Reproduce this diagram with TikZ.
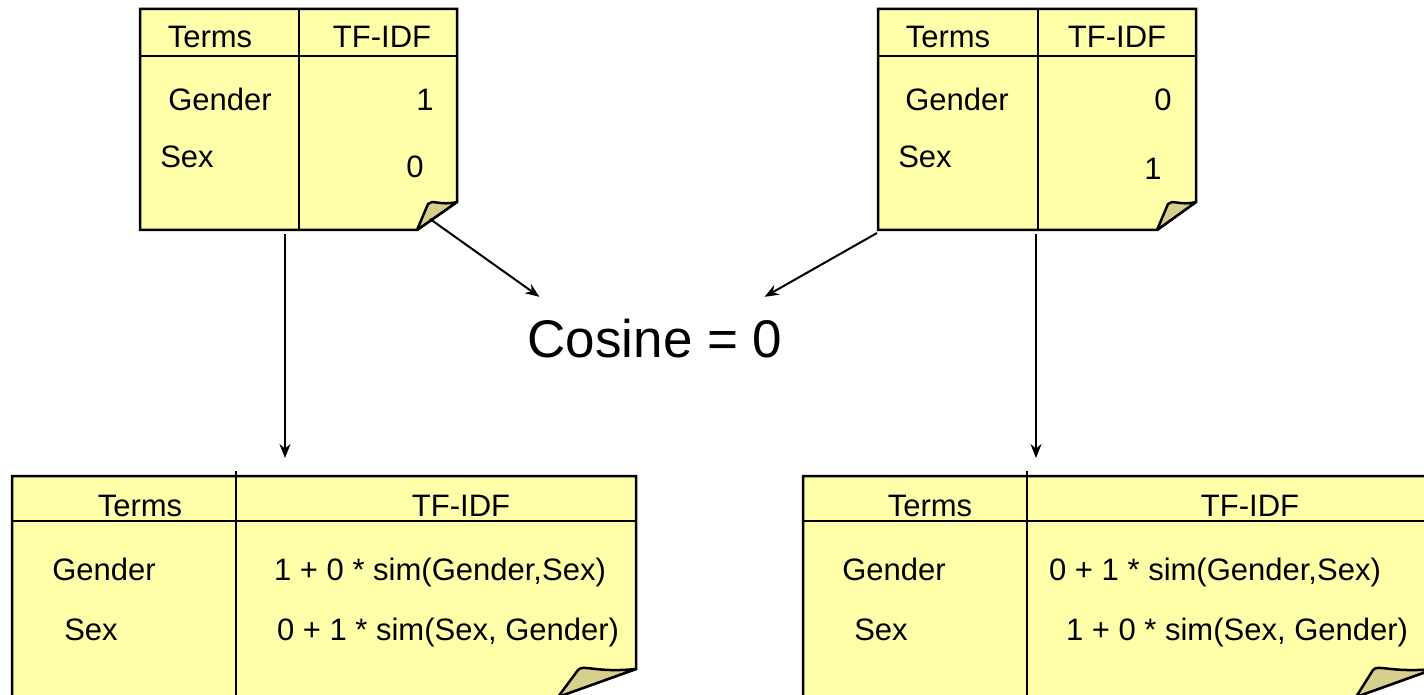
\documentclass[tikz,border=0pt]{standalone}
\usepackage{fontspec}
\setmainfont{Liberation Sans}
\usetikzlibrary{arrows.meta, positioning, calc}
\definecolor{notefill}{RGB}{255, 255, 170}
\definecolor{curlfill}{RGB}{214, 208, 140}

\tikzset{
  note/.style={draw=black, fill=notefill, line width=2.5pt, line join=miter},
  rule/.style={draw=black, line width=2.5pt},
  curl/.style={draw=black, fill=curlfill, line width=2.5pt, line join=round},
  cell/.style={font=\fontsize{31}{36}\selectfont, inner sep=0pt, text height=22pt, text depth=0pt},
  link/.style={draw=black, line width=2pt, -{Stealth[length=14pt, width=11pt]}},
}

\begin{document}
\begin{tikzpicture}[x=1pt, y=-1pt]
  \useasboundingbox (0,0) rectangle (1424,695);
  \clip (0,0) rectangle (1424,695);

  % Document A, original weights
  \path[note] (140,9) -- (457,9) -- (457,202) -- (417,230) -- (140,230) -- cycle;
  \draw[rule] (140,56) -- (457,56);
  \draw[rule] (299,9) -- (299,230);
  \path[curl] (417,230) -- (428,204) .. controls (432,199) and (440,206) .. (457,202) -- cycle;
  \node[cell] (a-terms) at (210,37) {Terms};
  \node[cell] (a-tfidf) at (382,37) {TF-IDF};
  \node[cell] (a-gender) at (220,100) {Gender};
  \node[cell] (a-gval) at (425,100) {1};
  \node[cell] (a-sex) at (187,157) {Sex};
  \node[cell] (a-sval) at (415,167) {0};

  % Document B, original weights
  \path[note] (878,9) -- (1196,9) -- (1196,202) -- (1157,230) -- (878,230) -- cycle;
  \draw[rule] (878,56) -- (1196,56);
  \draw[rule] (1038,9) -- (1038,230);
  \path[curl] (1157,230) -- (1168,204) .. controls (1172,199) and (1180,206) .. (1196,202) -- cycle;
  \node[cell] (b-terms) at (948,37) {Terms};
  \node[cell] (b-tfidf) at (1117,37) {TF-IDF};
  \node[cell] (b-gender) at (957,100) {Gender};
  \node[cell] (b-gval) at (1163,100) {0};
  \node[cell] (b-sex) at (925,157) {Sex};
  \node[cell] (b-sval) at (1153,169) {1};

  % Similarity of the two
  \node[font=\fontsize{53}{60}\selectfont, inner sep=0pt, text height=38pt, text depth=0pt] (cosine) at (655,338) {Cosine = 0};
  \coordinate (cos-left) at ($(cosine.north west)+(12,-22)$);
  \coordinate (cos-right) at ($(cosine.north east)+(-18,-22)$);

  % Document A, smoothed weights
  \path[note] (12,476) -- (636,476) -- (636,669) -- (549,700) -- (12,700) -- cycle;
  \draw[rule] (12,521) -- (636,521);
  \draw[rule] (236,471) -- (236,700);
  \path[curl] (558,697) -- (578,670) .. controls (583,664) and (595,673) .. (636,669) -- cycle;
  \node[cell] (c-terms) at (140,505) {Terms};
  \node[cell] (c-tfidf) at (461,505) {TF-IDF};
  \node[cell] (c-gender) at (104,569) {Gender};
  \node[cell] (c-gval) at (440,569) {1 + 0 * sim(Gender,Sex)};
  \node[cell] (c-sex) at (91,629) {Sex};
  \node[cell] (c-sval) at (448,629) {0 + 1 * sim(Sex, Gender)};

  % Document B, smoothed weights
  \path[note] (803,476) -- (1434,476) -- (1434,669) -- (1347,700) -- (803,700) -- cycle;
  \draw[rule] (803,521) -- (1434,521);
  \draw[rule] (1027,471) -- (1027,700);
  \path[curl] (1356,697) -- (1373,670) .. controls (1378,664) and (1390,673) .. (1434,669) -- cycle;
  \node[cell] (d-terms) at (930,505) {Terms};
  \node[cell] (d-tfidf) at (1250,505) {TF-IDF};
  \node[cell] (d-gender) at (894,569) {Gender};
  \node[cell] (d-gval) at (1215,569) {0 + 1 * sim(Gender,Sex)};
  \node[cell] (d-sex) at (881,629) {Sex};
  \node[cell] (d-sval) at (1237,629) {1 + 0 * sim(Sex, Gender)};

  % Arrows
  \coordinate (a-foot) at (285,234);
  \coordinate (c-head) at (285,458);
  \coordinate (b-foot) at (1036,234);
  \coordinate (d-head) at (1036,458);
  \coordinate (a-curl) at (430,219);
  \coordinate (b-corner) at (877,233);
  \draw[link] (a-foot) -- (c-head);
  \draw[link] (b-foot) -- (d-head);
  \draw[link] (a-curl) -- (cos-left);
  \draw[link] (b-corner) -- (cos-right);
\end{tikzpicture}
\end{document}
